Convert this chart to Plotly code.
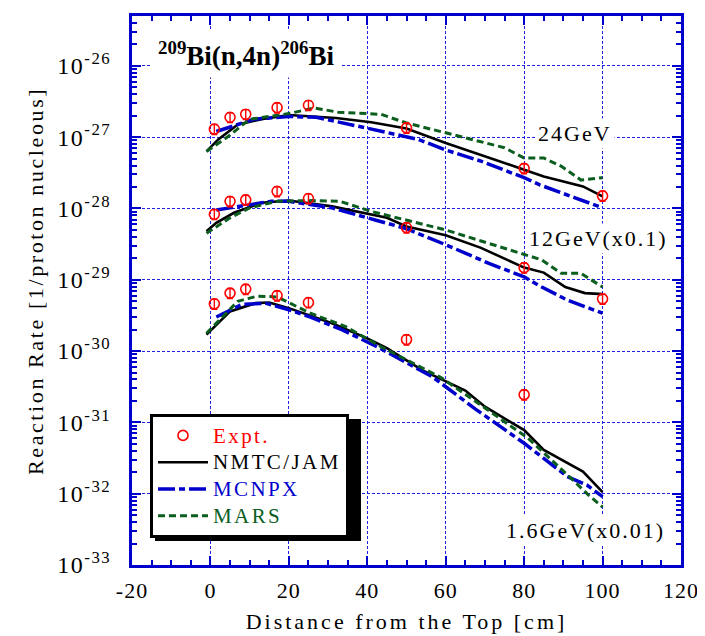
import plotly.graph_objects as go

# ---------------- data ----------------
x_expt = [1, 5, 9, 17, 25, 50, 80, 100]
x_expt_16 = [1, 5, 9, 17, 25, 50, 80]

expt_24 = [1.3e-27, 1.9e-27, 2.1e-27, 2.6e-27, 2.8e-27, 1.35e-27, 3.65e-28, 1.5e-28]
expt_12 = [8.3e-29, 1.26e-28, 1.32e-28, 1.74e-28, 1.38e-28, 5.4e-29, 1.48e-29, 5.4e-30]
expt_16 = [4.6e-30, 6.5e-30, 7.4e-30, 6.0e-30, 4.8e-30, 1.45e-30, 2.45e-31]

# NMTC/JAM
nmtc_24_x = [-1, 2, 7, 13, 20, 32, 41, 50, 60, 75, 80, 85, 95, 100]
nmtc_24_y = [6.3e-28, 9.3e-28, 1.51e-27, 1.78e-27, 2.04e-27, 1.86e-27, 1.62e-27, 1.32e-27,
             8.3e-28, 4.4e-28, 3.5e-28, 2.8e-28, 2.04e-28, 1.48e-28]
nmtc_12_x = [-1, 1.5, 6, 13, 20, 31, 45, 50, 60, 69, 80, 85, 90.5, 95.5, 100]
nmtc_12_y = [4.8e-29, 6.3e-29, 8.7e-29, 1.2e-28, 1.29e-28, 1.07e-28, 7.4e-29, 5.6e-29,
             4.2e-29, 2.8e-29, 1.48e-29, 1.26e-29, 7.9e-30, 6.5e-30, 6.3e-30]
nmtc_16_x = [-1, 5, 11.5, 15, 20, 31, 40, 45, 54, 60, 65, 70, 80, 85, 95, 100]
nmtc_16_y = [1.7e-30, 3.6e-30, 4.7e-30, 4.8e-30, 4.0e-30, 2.45e-30, 1.51e-30, 1.1e-30,
             5.4e-31, 3.8e-31, 2.8e-31, 1.66e-31, 7.8e-32, 4.1e-32, 2.04e-32, 1.05e-32]

# MCNPX
mcnpx_24_x = [1.5, 11, 20, 27, 38, 45, 53, 60, 69, 80, 84, 93, 100]
mcnpx_24_y = [1.2e-27, 1.78e-27, 1.95e-27, 1.9e-27, 1.41e-27, 1.17e-27, 9.3e-28, 6.6e-28,
              4.6e-28, 2.7e-28, 2.14e-28, 1.41e-28, 1.02e-28]
mcnpx_12_x = [1.5, 8, 15.5, 20, 27.5, 31, 42, 50, 60, 71, 80, 84.5, 91, 100]
mcnpx_12_y = [9.5e-29, 1.07e-28, 1.26e-28, 1.26e-28, 1.07e-28, 1.02e-28, 6.9e-29, 5.2e-29,
              3.1e-29, 1.7e-29, 1.1e-29, 7.9e-30, 5.2e-30, 3.4e-30]
mcnpx_16_x = [1.5, 8, 14, 20, 25.5, 33.5, 42.5, 56.5, 67.5, 80, 91, 96, 100]
mcnpx_16_y = [3.0e-30, 4.5e-30, 4.7e-30, 3.8e-30, 3.0e-30, 2.0e-30, 1.15e-30, 4.4e-31,
              1.55e-31, 5.1e-32, 1.74e-32, 1.32e-32, 9.1e-33]

# MARS
mars_24_x = [-1, 4.5, 10, 20, 26.5, 32.5, 43.5, 50, 60, 75, 80, 85, 89.5, 94.5, 100]
mars_24_y = [6.3e-28, 1.02e-27, 1.78e-27, 2.14e-27, 2.57e-27, 2.24e-27, 2.09e-27, 1.58e-27,
             1.15e-27, 7.1e-28, 5.1e-28, 5.1e-28, 3.9e-28, 2.5e-28, 2.7e-28]
mars_12_x = [-1, 5, 10, 17, 26, 33, 41, 50, 60, 69, 80, 84.5, 89.5, 94.5, 100]
mars_12_y = [4.5e-29, 7.4e-29, 1.02e-28, 1.26e-28, 1.29e-28, 1.26e-28, 9.1e-29, 6.9e-29,
             5.0e-29, 3.5e-29, 2.24e-29, 1.9e-29, 1.23e-29, 1.23e-29, 7.9e-30]
mars_16_x = [-1, 7, 12, 17, 25.5, 34.5, 43.5, 59, 69, 81, 91.5, 96.5, 100]
mars_16_y = [1.78e-30, 5.0e-30, 5.9e-30, 5.75e-30, 3.4e-30, 2.2e-30, 1.15e-30, 4.2e-31,
             1.74e-31, 6.0e-32, 1.74e-32, 9.5e-33, 6.5e-33]

x_ticks = [-20, 0, 20, 40, 60, 80, 100, 120]
y_exponents = [-33, -32, -31, -30, -29, -28, -27, -26]

# ---------------- styles ----------------
FONT = "Liberation Serif, Times New Roman, serif"
AXIS_BLUE = "#0000CC"
GRID_BLUE = "#2020E0"
RED = "#FF0000"
BLUE = "#0000CC"
GREEN = "#0B5E1E"

W, H = 705, 636
ML, MR, MT, MB = 124, 32, 8, 79
PW, PH = W - ML - MR, H - MT - MB


def px2paper(xp, yp):
    return (xp - ML) / PW, (H - MB - yp) / PH


def sp(t, color=None, ls="letter-spacing:2.5px", size=None):
    st = ls
    if color:
        st += ";color:" + color
    if size:
        st += ";font-size:%spx" % size
    return '<span style="%s">%s</span>' % (st, t)


LEG_LS = "letter-spacing:2.4px"
LEG_SIZE = 21

fig = go.Figure()

line_sets = [
    ("NMTC/JAM", "black", "solid", 2.6,
     [(nmtc_24_x, nmtc_24_y), (nmtc_12_x, nmtc_12_y), (nmtc_16_x, nmtc_16_y)], 2),
    ("MCNPX", BLUE, "17px,4px,6px,4px", 3.5,
     [(mcnpx_24_x, mcnpx_24_y), (mcnpx_12_x, mcnpx_12_y), (mcnpx_16_x, mcnpx_16_y)], 3),
    ("MARS", GREEN, "7px,4px", 3,
     [(mars_24_x, mars_24_y), (mars_12_x, mars_12_y), (mars_16_x, mars_16_y)], 4),
]

for name, color, dash, width, sets, rank in line_sets:
    for i, (xs, ys) in enumerate(sets):
        fig.add_trace(go.Scatter(
            x=xs, y=ys, mode="lines",
            line=dict(color=color, dash=dash, width=width),
            name=sp(name, color, LEG_LS, LEG_SIZE), showlegend=(i == 0), legendrank=rank,
            legendgroup=name,
        ))

for i, (xs, ys) in enumerate([(x_expt, expt_24), (x_expt, expt_12), (x_expt_16, expt_16)]):
    fig.add_trace(go.Scatter(
        x=xs, y=ys, mode="markers",
        marker=dict(symbol="circle-open", size=10, color=RED, line=dict(width=1.6, color=RED)),
        error_y=dict(type="percent", value=16, color=RED, thickness=1.4, width=3),
        name=sp("Expt.", RED, LEG_LS, LEG_SIZE), showlegend=(i == 0), legendrank=1,
        legendgroup="expt",
    ))

# ---------------- layout ----------------
lx, ly = px2paper(142, 406)
fig.update_layout(
    width=W, height=H,
    margin=dict(l=ML, r=MR, t=MT, b=MB),
    paper_bgcolor="white", plot_bgcolor="white",
    font=dict(family=FONT, size=22, color="black"),
    showlegend=True,
    legend=dict(
        x=lx, y=ly, xanchor="left", yanchor="top",
        bgcolor="white", bordercolor="black", borderwidth=3,
        font=dict(family=FONT, size=18.3), itemwidth=50,
        tracegroupgap=0, traceorder="normal",
    ),
)

minor_x = [v for v in range(-20, 121, 5)]
fig.update_xaxes(
    range=[-20, 120], tickvals=x_ticks,
    ticktext=[sp(str(v), ls="letter-spacing:1px") for v in x_ticks],
    showline=True, linecolor=AXIS_BLUE, linewidth=3, mirror="allticks",
    ticks="inside", ticklen=9, tickwidth=2, tickcolor=AXIS_BLUE,
    showgrid=True, gridcolor=GRID_BLUE, gridwidth=1, griddash="3px,2px",
    zeroline=False, automargin=False, ticklabelstandoff=4,
    minor=dict(tickvals=minor_x, ticks="inside", ticklen=5, tickwidth=2,
               tickcolor=AXIS_BLUE, showgrid=False),
    title=dict(text=sp("Distance from the Top [cm]", ls="letter-spacing:3px"),
               font=dict(size=22), standoff=12),
    tickfont=dict(size=22),
)

minor_y = [k * 10.0 ** e for e in range(-33, -25) for k in range(2, 10) if k * 10.0 ** e <= 5e-26]
fig.update_yaxes(
    type="log", range=[-33, -25.301],
    tickvals=[10.0 ** e for e in y_exponents],
    ticktext=[sp("10<sup>%d</sup>" % e, ls="letter-spacing:1.5px") for e in y_exponents],
    showline=True, linecolor=AXIS_BLUE, linewidth=3, mirror="allticks",
    ticks="inside", ticklen=9, tickwidth=2, tickcolor=AXIS_BLUE,
    showgrid=True, gridcolor=GRID_BLUE, gridwidth=1, griddash="3px,2px",
    zeroline=False, automargin=False, ticklabelstandoff=13,
    minor=dict(tickvals=minor_y, ticks="inside", ticklen=5, tickwidth=1.5,
               tickcolor=AXIS_BLUE, showgrid=False),
    tickfont=dict(size=24),
)

# y-axis title (placed as rotated text, slightly above the plot centre like the original)
yx, yy = px2paper(27, 273)
fig.add_annotation(
    xref="paper", yref="paper", x=yx, y=yy, xanchor="center", yanchor="middle",
    text=sp("Reaction Rate [1/proton nucleous]", ls="letter-spacing:2.6px"),
    textangle=-90, showarrow=False, font=dict(family=FONT, size=22, color="black"),
)

# title annotation and energy labels
tx, ty = px2paper(143, 46)
fig.add_annotation(
    xref="paper", yref="paper", x=tx, y=ty, xanchor="left", yanchor="middle",
    text="<b><sup>209</sup>Bi(n,4n)<sup>206</sup>Bi</b>", showarrow=False,
    font=dict(family=FONT, size=27, color="black"), bgcolor="white", borderpad=6,
)
for label, xr, yc in [("24GeV", 607, 125), ("12GeV(x0.1)", 663, 230),
                      ("1.6GeV(x0.01)", 660, 522)]:
    ax, ay = px2paper(xr, yc)
    fig.add_annotation(
        xref="paper", yref="paper", x=ax, y=ay, xanchor="right", yanchor="middle",
        text=sp(label, ls="letter-spacing:2px"), showarrow=False,
        font=dict(family=FONT, size=22), bgcolor="white", borderpad=2,
    )

# legend shadow
sx0, sy0 = px2paper(147, 533)
sx1, sy1 = px2paper(353, 411)
fig.add_shape(
    type="rect", xref="paper", yref="paper", layer="above",
    x0=sx0, x1=sx1, y0=sy0, y1=sy1,
    fillcolor="black", line=dict(width=0),
)

fig.write_html("out.html")
